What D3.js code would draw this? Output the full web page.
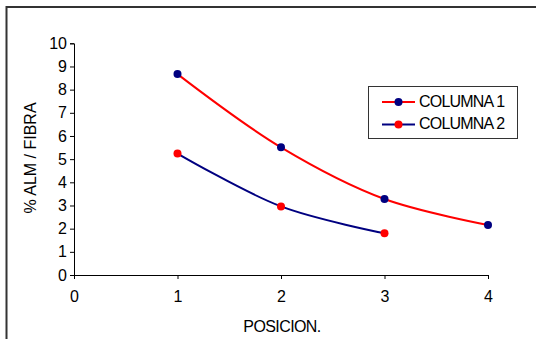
<!DOCTYPE html>
<html><head><meta charset="utf-8">
<script src="https://cdn.jsdelivr.net/npm/d3@7"></script>
<style>body{margin:0;background:#fff;}svg{display:block;font-family:"Liberation Sans",Arial,sans-serif;}</style>
</head><body>
<svg id="c" width="536" height="339"></svg>
<script>
const posiciones1 = [1, 2, 3, 4];
const columna1 = [8.67, 5.51, 3.28, 2.16];
const posiciones2 = [1, 2, 3];
const columna2 = [5.24, 2.96, 1.8];
const xTicks = [0, 1, 2, 3, 4];
const yTicks = [0, 1, 2, 3, 4, 5, 6, 7, 8, 9, 10];
const seriesNames = ["COLUMNA 1", "COLUMNA 2"];

const FS = 16;
const svg = d3.select("#c");
// outer frame
svg.append("rect").attr("x", 6.5).attr("y", 7).attr("width", 600).attr("height", 400)
  .attr("fill", "none").attr("stroke", "#333").attr("stroke-width", 2);

const x = d3.scaleLinear().domain([0, 4]).range([74, 488]);
const y = d3.scaleLinear().domain([0, 10]).range([275, 43.3]);

const xa = svg.append("g").attr("transform", "translate(0,275)")
  .call(d3.axisBottom(x).tickValues(xTicks).tickFormat(d3.format("d")).tickSize(4).tickPadding(12));
const ya = svg.append("g").attr("transform", "translate(74,0)")
  .call(d3.axisLeft(y).tickValues(yTicks).tickFormat(d3.format("d")).tickSize(4).tickPadding(3));
[xa, ya].forEach(a => {
  a.attr("font-size", FS).attr("font-family", "Liberation Sans, Arial, sans-serif");
  a.select(".domain").attr("stroke", "#000").attr("stroke-width", 1);
  a.selectAll(".tick line").attr("stroke", "#000");
  a.selectAll("text").attr("fill", "#000");
});

const line = d3.line().x(d => x(d[0])).y(d => y(d[1])).curve(d3.curveCatmullRom.alpha(0.5));
const s1 = posiciones1.map((p, i) => [p, columna1[i]]);
const s2 = posiciones2.map((p, i) => [p, columna2[i]]);
const series = [
  {data: s1, line: "#ff0000", marker: "#000080"},
  {data: s2, line: "#000080", marker: "#ff0000"}
];
series.forEach(s => {
  svg.append("path").attr("d", line(s.data)).attr("fill", "none")
    .attr("stroke", s.line).attr("stroke-width", 2);
});
series.forEach(s => {
  svg.selectAll(null).data(s.data).enter().append("circle")
    .attr("cx", d => x(d[0])).attr("cy", d => y(d[1])).attr("r", 4)
    .attr("fill", s.marker);
});

// axis titles
svg.append("text").attr("x", 282).attr("y", 331.5).attr("text-anchor", "middle")
  .attr("font-size", FS).attr("letter-spacing", -0.6).text("POSICION.");
svg.append("text").attr("transform", "translate(36,158) rotate(-90)").attr("text-anchor", "middle")
  .attr("font-size", FS).text("% ALM / FIBRA");

// legend
const lg = svg.append("g");
lg.append("rect").attr("x", 368.5).attr("y", 86.5).attr("width", 149).attr("height", 52)
  .attr("fill", "#fff").attr("stroke", "#333").attr("stroke-width", 1);
series.forEach((s, i) => {
  const yy = 102 + i * 22.5;
  lg.append("line").attr("x1", 382).attr("x2", 415).attr("y1", yy).attr("y2", yy)
    .attr("stroke", s.line).attr("stroke-width", 2);
  lg.append("circle").attr("cx", 398.5).attr("cy", yy).attr("r", 4).attr("fill", s.marker);
  lg.append("text").attr("x", 419).attr("y", yy + 4.8).attr("font-size", FS)
    .attr("letter-spacing", -0.8).text(seriesNames[i]);
});
</script>
</body></html>
